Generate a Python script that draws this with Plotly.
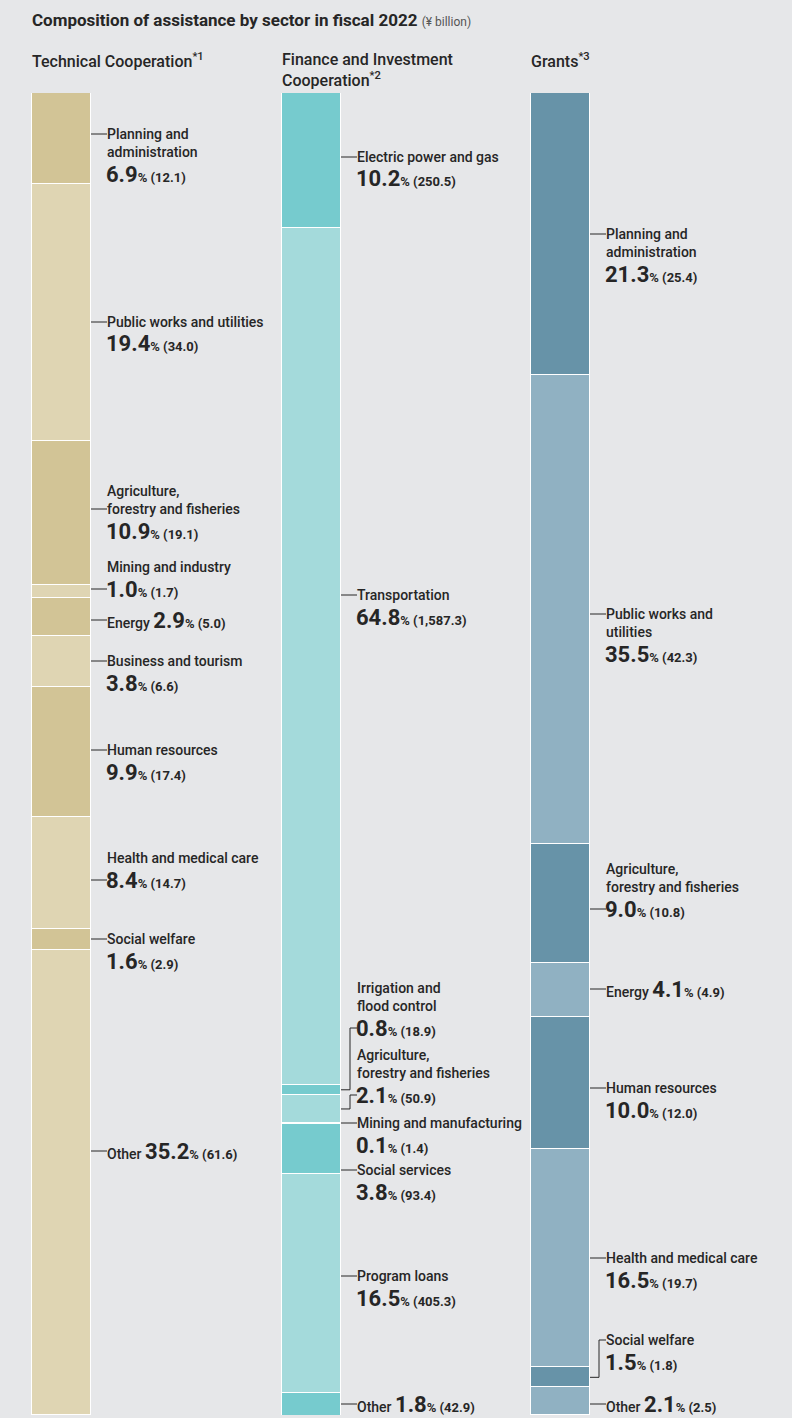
import plotly.graph_objects as go

# ---- data (percent of each scheme, amount in ¥ billion) ----
tc_sectors = ["Planning and<br>administration", "Public works and utilities",
              "Agriculture,<br>forestry and fisheries", "Mining and industry", "Energy",
              "Business and tourism", "Human resources", "Health and medical care",
              "Social welfare", "Other"]
tc_pct = [6.9, 19.4, 10.9, 1.0, 2.9, 3.8, 9.9, 8.4, 1.6, 35.2]
tc_amt = ["12.1", "34.0", "19.1", "1.7", "5.0", "6.6", "17.4", "14.7", "2.9", "61.6"]

fi_sectors = ["Electric power and gas", "Transportation", "Irrigation and<br>flood control",
              "Agriculture,<br>forestry and fisheries", "Mining and manufacturing",
              "Social services", "Program loans", "Other"]
fi_pct = [10.2, 64.8, 0.8, 2.1, 0.1, 3.8, 16.5, 1.8]
fi_amt = ["250.5", "1,587.3", "18.9", "50.9", "1.4", "93.4", "405.3", "42.9"]

gr_sectors = ["Planning and<br>administration", "Public works and<br>utilities",
              "Agriculture,<br>forestry and fisheries", "Energy", "Human resources",
              "Health and medical care", "Social welfare", "Other"]
gr_pct = [21.3, 35.5, 9.0, 4.1, 10.0, 16.5, 1.5, 2.1]
gr_amt = ["25.4", "42.3", "10.8", "4.9", "12.0", "19.7", "1.8", "2.5"]

# ---- label layout: (connector y in px, which line the connector hits, elbow) ----
# anchor: index of name line, "v" = value line, "i" = inline label
tc_lab = [(134, 0, False), (322, 0, False), (509, 1, False), (589, "v", False), (620, "i", False),
          (661, 0, False), (750, 0, False), (880, "v", False), (939, 0, False), (1151, "i", False)]
fi_lab = [(157, 0, False), (595, 0, False), (1028, "v", True), (1095, "v", True),
          (1123, 0, False), (1170, 0, False), (1276, 0, False), (1404, "i", False)]
gr_lab = [(234, 0, False), (614, 0, False), (909, "v", False), (989, "i", False),
          (1088, 0, False), (1258, 0, False), (1340, 0, True), (1404, "i", False)]

W, H = 792, 1418
TOP, BOT = 93, 1415
BAR_L = [32, 282, 531]
BAR_W = 59
X0, DX = 61.5, 249.5
TXT = "#262626"
FONT = "Roboto"

colors = [
    ["#d2c496", "#dfd5b3"],
    ["#76cbce", "#a4dadb"],
    ["#6793a8", "#90b1c2"],
]
# which shade each segment uses (0 dark, 1 light)
tc_shade = [0, 1, 0, 1, 0, 1, 0, 1, 0, 1]
fi_shade = [0, 1, 0, 1, 1, 0, 1, 0]
gr_shade = [0, 1, 0, 1, 0, 1, 0, 1]

fig = go.Figure()

groups = [
    (tc_sectors, tc_pct, tc_amt, tc_lab, tc_shade),
    (fi_sectors, fi_pct, fi_amt, fi_lab, fi_shade),
    (gr_sectors, gr_pct, gr_amt, gr_lab, gr_shade),
]

for gi, (names, pcts, amts, labs, shades) in enumerate(groups):
    for name, p, sh in zip(names, pcts, shades):
        fig.add_trace(go.Bar(
            x=[gi], y=[p], width=BAR_W / DX,
            marker=dict(color=colors[gi][sh], line=dict(color="white", width=1.2)),
            name=name.replace("<br>", " "), showlegend=False, hoverinfo="skip",
        ))


def py2paper(py):
    return (BOT - py) / (BOT - TOP)


def px2paper(px):
    return px / W


annotations = []
shapes = []


def add_text(px, py, text, size, weight=500):
    # annotations carry ~2px inner padding, so pull them left a little
    annotations.append(dict(
        x=px2paper(px - 2), y=py2paper(py), xref="paper", yref="paper",
        xanchor="left", yanchor="middle", showarrow=False, align="left",
        text=text, font=dict(family=FONT, size=size, color=TXT, weight=weight),
    ))


def value_text(p, a):
    return (f"<b><span style='font-size:22px'>{p:.1f}</span>"
            f"<span style='font-size:13px'>% ({a})</span></b>")


NAME_STEP = 18
VAL_GAP = 22

for gi, (names, pcts, amts, labs, shades) in enumerate(groups):
    bar_r = BAR_L[gi] + BAR_W
    tx = bar_r + 16
    cum = 0
    for name, p, a, (cy, anchor, elbow) in zip(names, pcts, amts, labs):
        mid_py = TOP + (cum + p / 2) / 100 * (BOT - TOP)
        cum += p
        lines = name.split("<br>")
        if anchor == "i":
            add_text(tx, cy, f"{name} " + value_text(p, a), 14)
        else:
            if anchor == "v":
                vy = cy
                first = vy - VAL_GAP - NAME_STEP * (len(lines) - 1)
            else:
                first = cy - NAME_STEP * anchor
                vy = first + NAME_STEP * (len(lines) - 1) + VAL_GAP
            for li, ln in enumerate(lines):
                add_text(tx, first + li * NAME_STEP, ln, 14)
            add_text(tx - 1, vy, value_text(p, a), 14)
        # connector
        if elbow:
            ex = tx - 7
            shapes.append(dict(type="path", xref="paper", yref="paper",
                               path=(f"M {px2paper(bar_r)},{py2paper(mid_py)} "
                                     f"L {px2paper(ex)},{py2paper(mid_py)} "
                                     f"L {px2paper(ex)},{py2paper(cy)} "
                                     f"L {px2paper(tx)},{py2paper(cy)}"),
                               line=dict(color=TXT, width=1)))
        else:
            shapes.append(dict(type="line", xref="paper", yref="paper",
                               x0=px2paper(bar_r), x1=px2paper(tx),
                               y0=py2paper(cy), y1=py2paper(cy),
                               line=dict(color=TXT, width=1)))

# title and column headers
annotations.append(dict(
    x=px2paper(30), y=py2paper(20), xref="paper", yref="paper",
    xanchor="left", yanchor="middle", showarrow=False,
    text="<b>Composition of assistance by sector in fiscal 2022</b> "
         "<span style='font-size:12px;color:#555'>(¥ billion)</span>",
    font=dict(family=FONT, size=17, color=TXT),
))
headers = ["Technical Cooperation<sup>*1</sup>",
           "Finance and Investment<br>Cooperation<sup>*2</sup>",
           "Grants<sup>*3</sup>"]
for gi, h in enumerate(headers):
    annotations.append(dict(
        x=px2paper(BAR_L[gi] - 2), y=py2paper(48), xref="paper", yref="paper",
        xanchor="left", yanchor="top", showarrow=False, align="left",
        text=h, font=dict(family=FONT, size=16, color=TXT, weight=500),
    ))

fig.update_layout(
    width=W, height=H,
    margin=dict(l=0, r=0, t=TOP, b=H - BOT, pad=0),
    paper_bgcolor="#e6e7e9", plot_bgcolor="#e6e7e9",
    barmode="stack", bargap=0,
    xaxis=dict(range=[-X0 / DX, (W - X0) / DX], visible=False, fixedrange=True),
    yaxis=dict(range=[100, 0], visible=False, fixedrange=True),
    annotations=annotations, shapes=shapes,
    showlegend=False,
)

fig.write_html("out.html", config={"displayModeBar": False},
               post_script="document.body.style.margin='0';")
